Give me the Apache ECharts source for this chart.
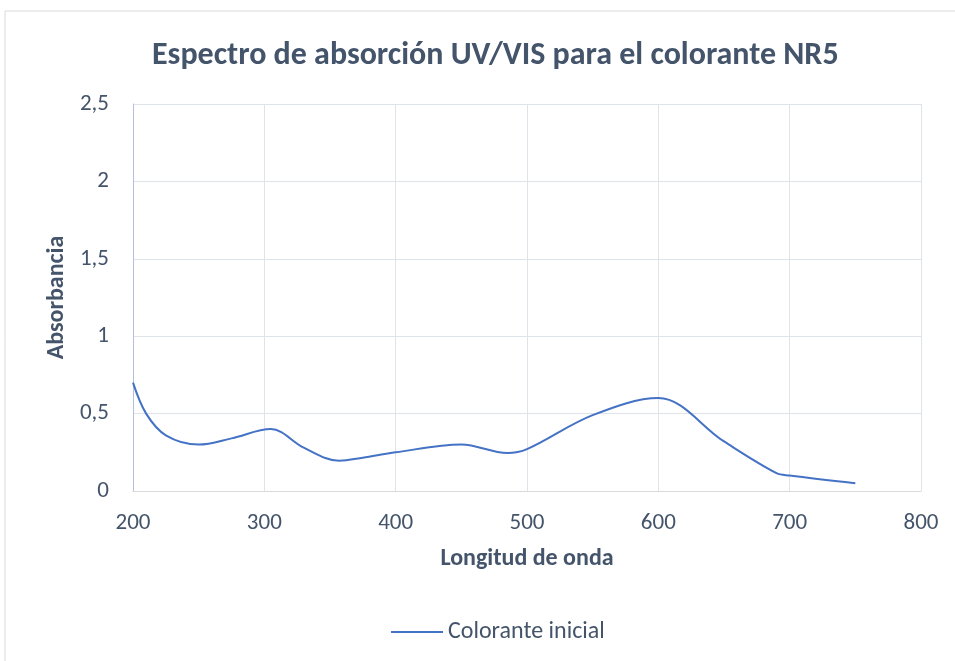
<!DOCTYPE html>
<html>
<head>
<meta charset="utf-8">
<script src="https://cdn.jsdelivr.net/npm/echarts@6/dist/echarts.min.js"></script>
<style>
  html, body { margin: 0; padding: 0; background: #fff; }
  #chart { width: 955px; height: 661px; }
</style>
</head>
<body>
<div id="chart"></div>
<script>
  // valores
  var longitudes = [200, 210, 225, 250, 275, 305, 330, 357, 375, 400, 450, 485, 500, 550, 600, 650, 690, 700, 750]
  var absorbancia = [0.70, 0.50, 0.36, 0.30, 0.34, 0.40, 0.28, 0.195, 0.215, 0.25, 0.30, 0.245, 0.27, 0.49, 0.60, 0.32, 0.115, 0.10, 0.05]
  var serieNombre = 'Colorante inicial'

  var fuente = 'Carlito, "Liberation Sans Narrow", "Open Sans", sans-serif'
  var textoColor = '#44546a'
  var chart = echarts.init(document.getElementById('chart'))

  chart.setOption({
    animation: false,
    title: {
      text: 'Espectro de absorción UV/VIS para el colorante NR5',
      left: 147,
      top: 35,
      textStyle: {
        color: textoColor,
        fontSize: 32,
        fontWeight: 'bold',
        fontFamily: fuente
      }
    },
    graphic: [{
      type: 'rect',
      shape: { x: 5, y: 11, width: 960, height: 660 },
      style: { fill: 'none', stroke: '#d9d9d9', lineWidth: 1 },
      silent: true
    }],
    grid: {
      left: 133,
      right: 34,
      top: 104,
      bottom: 170
    },
    legend: {
      top: 615,
      left: 386,
      itemWidth: 52,
      itemHeight: 2,
      itemGap: 6,
      data: [{ name: serieNombre, icon: 'rect' }],
      textStyle: { color: textoColor, fontSize: 24, fontFamily: fuente }
    },
    xAxis: {
      type: 'value',
      min: 200,
      max: 800,
      interval: 100,
      name: 'Longitud de onda',
      nameLocation: 'middle',
      nameGap: 56,
      nameTextStyle: { color: textoColor, fontSize: 24, fontWeight: 'bold', fontFamily: fuente },
      axisLine: { show: true, lineStyle: { color: '#d9d9d9' } },
      axisTick: { show: false },
      axisLabel: { color: textoColor, fontSize: 23, margin: 21, fontFamily: fuente },
      splitLine: { show: true, lineStyle: { color: '#dfe3ea', width: 1 } }
    },
    yAxis: {
      type: 'value',
      min: 0,
      max: 2.5,
      interval: 0.5,
      name: 'Absorbancia',
      nameLocation: 'middle',
      nameGap: 64,
      nameRotate: 90,
      nameTextStyle: { color: textoColor, fontSize: 24, fontWeight: 'bold', fontFamily: fuente },
      axisLine: { show: true, lineStyle: { color: '#b4c0d6' } },
      axisTick: { show: false },
      axisLabel: {
        color: textoColor,
        fontSize: 23,
        margin: 24,
        fontFamily: fuente,
        formatter: function (v) { return String(v).replace('.', ',') }
      },
      splitLine: { show: true, lineStyle: { color: '#dfe3ea', width: 1 } }
    },
    series: [{
      name: serieNombre,
      type: 'line',
      smooth: 0.35,
      showSymbol: false,
      data: longitudes.map(function (x, i) { return [x, absorbancia[i]] }),
      itemStyle: { color: '#4472c4' },
      lineStyle: { color: '#4472c4', width: 2 }
    }]
  })
</script>
</body>
</html>
